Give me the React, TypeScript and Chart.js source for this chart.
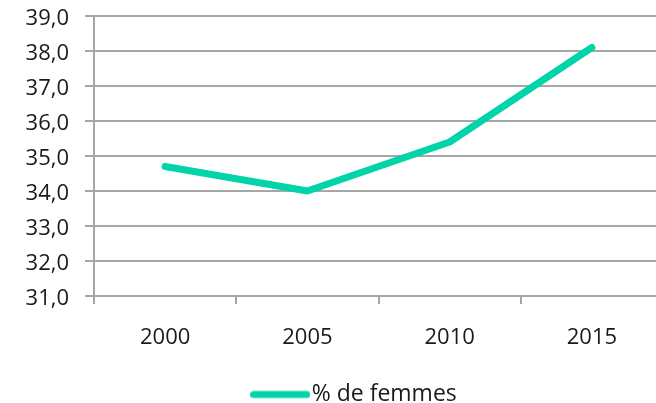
import React, { useEffect, useRef } from "react";
import { Chart, registerables } from "chart.js";

Chart.register(...registerables);

const categories = ["2000", "2005", "2010", "2015"];
const femmes = [34.7, 34.0, 35.4, 38.1];
const seriesLabel = "% de femmes";
const yMin = 31;
const yMax = 39;
const yStep = 1;

const FONT = "'Open Sans', sans-serif";
const TEXT = "#1a1a1a";
const GRID = "#a6a6a6";
const LINE = "#02d4aa";
const LEGEND_SHIFT = 27;

const legendShift = {
  id: "legendShift",
  afterLayout(chart: any) {
    const lg = chart.legend;
    if (lg) {
      lg.left += LEGEND_SHIFT;
      lg.right += LEGEND_SHIFT;
    }
  },
};

function makeLegendMarker(): HTMLCanvasElement {
  const c = document.createElement("canvas");
  c.width = 60;
  c.height = 10;
  const g = c.getContext("2d");
  if (g) {
    g.strokeStyle = LINE;
    g.lineWidth = 7;
    g.lineCap = "round";
    g.beginPath();
    g.moveTo(3.5, 5);
    g.lineTo(56.5, 5);
    g.stroke();
  }
  return c;
}

export default function App() {
  const ref = useRef<HTMLCanvasElement | null>(null);

  useEffect(() => {
    const canvas = ref.current;
    if (!canvas) return;
    const marker = makeLegendMarker();
    const chart = new Chart(canvas, {
      type: "line",
      data: {
        labels: categories,
        datasets: [
          {
            label: seriesLabel,
            data: femmes,
            borderColor: LINE,
            backgroundColor: LINE,
            borderWidth: 7,
            borderCapStyle: "round",
            borderJoinStyle: "round",
            pointRadius: 0,
            pointHoverRadius: 0,
            tension: 0,
            fill: false,
          },
        ],
      },
      plugins: [legendShift],
      options: {
        responsive: false,
        animation: false,
        devicePixelRatio: 1,
        layout: { padding: { top: 16, left: 0, right: 41, bottom: 0 } },
        plugins: {
          tooltip: { enabled: false },
          legend: {
            position: "bottom",
            labels: {
              usePointStyle: true,
              pointStyle: marker as any,
              pointStyleWidth: 40,
              boxWidth: 40,
              boxHeight: 7,
              padding: 10,
              color: TEXT,
              font: { family: FONT, size: 23 },
            },
          },
        },
        scales: {
          x: {
            type: "category",
            offset: true,
            afterFit: (s: any) => {
              s.height = 77;
              s.paddingLeft = 0;
              s.paddingRight = 0;
            },
            grid: {
              offset: true,
              drawOnChartArea: false,
              drawTicks: true,
              tickLength: 8,
              color: GRID,
              lineWidth: 2,
            },
            border: { display: true, color: GRID, width: 2 },
            ticks: {
              color: TEXT,
              font: { family: FONT, size: 22 },
              padding: 21,
              maxRotation: 0,
            },
          },
          y: {
            min: yMin,
            max: yMax,
            afterFit: (s: any) => {
              s.width = 94;
              s.paddingTop = 0;
              s.paddingBottom = 0;
            },
            grid: {
              color: GRID,
              lineWidth: 2,
              drawTicks: true,
              tickLength: 9,
            },
            border: { display: true, color: GRID, width: 2 },
            ticks: {
              stepSize: yStep,
              color: TEXT,
              font: { family: FONT, size: 22 },
              padding: 16,
              labelOffset: 3,
              callback: (v: any) => Number(v).toFixed(1).replace(".", ","),
            },
          },
        },
      },
    });
    return () => chart.destroy();
  }, []);

  return (
    <div
      style={{
        position: "absolute",
        left: 0,
        top: 0,
        width: 656,
        height: 403,
        overflow: "hidden",
        background: "#ffffff",
      }}
    >
      <canvas ref={ref} width={704} height={416} style={{ display: "block" }} />
    </div>
  );
}
